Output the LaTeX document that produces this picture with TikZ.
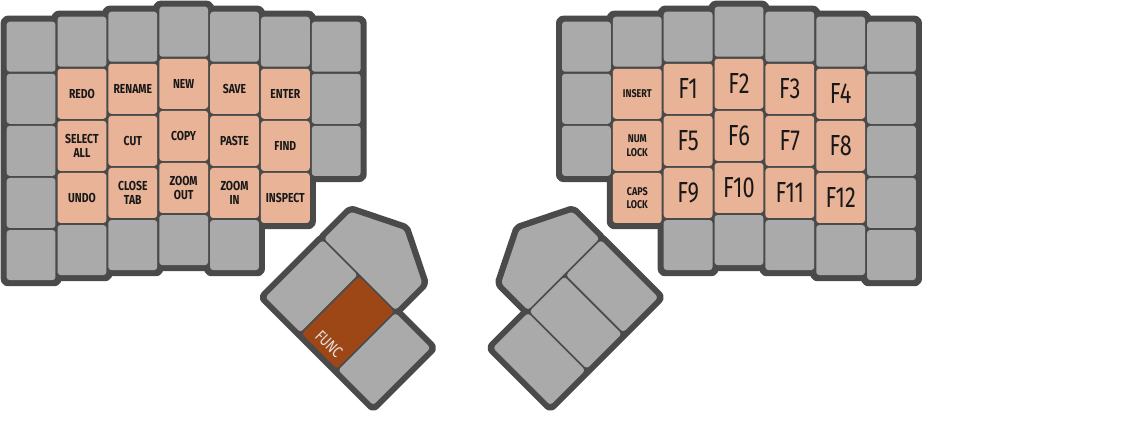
\documentclass[tikz,border=0pt]{standalone}
\usepackage{fontspec}
\usetikzlibrary{positioning}
\newfontfamily\capfont[FakeStretch=0.8]{Fira Sans}
\newfontfamily\numfont[FakeStretch=0.75]{Fira Sans}
\definecolor{casegray}{RGB}{74,74,74}
\definecolor{keygray}{RGB}{170,170,170}
\definecolor{peach}{RGB}{232,179,150}
\definecolor{rust}{RGB}{158,71,22}
\definecolor{ink}{RGB}{24,24,24}
\definecolor{funcink}{RGB}{228,228,228}
\tikzstyle{casebox} = [draw=casegray,fill=casegray,line width=0.2cm,line join=round,rounded corners=0.04cm]
\tikzstyle{keycap} = [rectangle,fill=keygray,rounded corners=0.06cm,inner sep=0,outer sep=0,minimum width=0.976cm,minimum height=1cm]
\tikzstyle{actcap} = [keycap,fill=peach,text=ink,align=center,font=\capfont\bfseries\fontsize{7.4}{7.8}\selectfont]
\tikzstyle{lockcap} = [actcap,font=\capfont\bfseries\fontsize{6.4}{7.8}\selectfont]
\tikzstyle{fcap} = [actcap,font=\numfont\fontsize{16.5}{18}\selectfont]
\tikzstyle{thumbcap} = [keycap,transform shape,minimum width=0.99cm,minimum height=1.62cm]
\def \gap {0.042cm}

\begin{document}
\begin{tikzpicture}[x=0.02cm,y=-0.02cm,node distance=\gap]
      \useasboundingbox (0,0) rectangle (1124,420);
      % case outlines, one box per column
      \foreach \c/\s/\n in {0/21.7/5,1/16.7/5,2/11.7/5,3/6.7/5,4/11.7/5,5/16.7/4,6/21.7/3}
        \draw[casebox] ({5.7+50.85*\c},{\s-1}) rectangle ++(50.8,{52.1*\n});
      \foreach \c/\s/\n in {0/21.7/3,1/16.7/4,2/11.7/5,3/6.7/5,4/11.7/5,5/16.7/5,6/21.7/5}
        \draw[casebox] ({561+50.85*\c},{\s-1}) rectangle ++(50.8,{52.1*\n});
      % top row of both halves
      \foreach \c/\s in {0/46.7,1/41.7,2/36.7,3/31.7,4/36.7,5/41.7,6/46.7} {
        \node[keycap] (l\c0) at ({31.1+50.85*\c},\s) {};
        \node[keycap] (r\c0) at ({586.4+50.85*\c},\s) {};
      }
      % left half
      \node[keycap,below=of l00] (l01) {};
      \node[keycap,below=of l01] (l02) {};
      \node[keycap,below=of l02] (l03) {};
      \node[keycap,below=of l03] (l04) {};
      \node[actcap,below=of l10] (redo) {REDO};
      \node[actcap,below=of redo] (selectall) {SELECT\\ALL};
      \node[actcap,below=of selectall] (undo) {UNDO};
      \node[keycap,below=of undo] (l14) {};
      \node[actcap,below=of l20] (rename) {RENAME};
      \node[actcap,below=of rename] (cut) {CUT};
      \node[actcap,below=of cut] (closetab) {CLOSE\\TAB};
      \node[keycap,below=of closetab] (l24) {};
      \node[actcap,below=of l30] (new) {NEW};
      \node[actcap,below=of new] (copy) {COPY};
      \node[actcap,below=of copy] (zoomout) {ZOOM\\OUT};
      \node[keycap,below=of zoomout] (l34) {};
      \node[actcap,below=of l40] (save) {SAVE};
      \node[actcap,below=of save] (paste) {PASTE};
      \node[actcap,below=of paste] (zoomin) {ZOOM\\IN};
      \node[keycap,below=of zoomin] (l44) {};
      \node[actcap,below=of l50] (enter) {ENTER};
      \node[actcap,below=of enter] (find) {FIND};
      \node[actcap,below=of find] (inspect) {INSPECT};
      \node[keycap,below=of l60] (l61) {};
      \node[keycap,below=of l61] (l62) {};
      % right half
      \node[keycap,below=of r00] (r01) {};
      \node[keycap,below=of r01] (r02) {};
      \node[lockcap,below=of r10] (insert) {INSERT};
      \node[lockcap,below=of insert] (numlock) {NUM\\LOCK};
      \node[lockcap,below=of numlock] (capslock) {CAPS\\LOCK};
      \node[fcap,below=of r20] (f1) {F1};
      \node[fcap,below=of f1] (f5) {F5};
      \node[fcap,below=of f5] (f9) {F9};
      \node[keycap,below=of f9] (r24) {};
      \node[fcap,below=of r30] (f2) {F2};
      \node[fcap,below=of f2] (f6) {F6};
      \node[fcap,below=of f6] (f10) {F10};
      \node[keycap,below=of f10] (r34) {};
      \node[fcap,below=of r40] (f3) {F3};
      \node[fcap,below=of f3] (f7) {F7};
      \node[fcap,below=of f7] (f11) {F11};
      \node[keycap,below=of f11] (r44) {};
      \node[fcap,below=of r50] (f4) {F4};
      \node[fcap,below=of f4] (f8) {F8};
      \node[fcap,below=of f8] (f12) {F12};
      \node[keycap,below=of f12] (r54) {};
      \node[keycap,below=of r60] (r61) {};
      \node[keycap,below=of r61] (r62) {};
      \node[keycap,below=of r62] (r63) {};
      \node[keycap,below=of r63] (r64) {};
      % left thumb cluster
      \begin{scope}[shift={(265,297)},rotate=-45]
        \draw[casebox] (-0.5,1) rectangle (154,-82);
        \draw[casebox] (-0.5,-82) -- (102.5,-82) -- (102.5,-122) -- (51,-147.5) -- (-0.5,-122) -- cycle;
        \node[thumbcap] (lthumb1) at (25.25,-40.5) {};
        \node[thumbcap,fill=rust] (func) at (76.75,-40.5) {};
        \node[thumbcap] (lthumb3) at (128.25,-40.5) {};
        \fill[keygray,rounded corners=0.06cm] (0.5,-83) -- (101.5,-83) -- (101.5,-121) -- (51,-146) -- (0.5,-121) -- cycle;
        \node[transform shape,inner sep=0,text=funcink,font=\capfont\fontsize{9.2}{10}\selectfont] (funclabel) at (78.5,-12) {FUNC};
      \end{scope}
      % right thumb cluster, mirrored
      \begin{scope}[shift={(923.5,0)},xscale=-1]
        \begin{scope}[shift={(265,297)},rotate=-45]
          \draw[casebox] (-0.5,1) rectangle (154,-82);
          \draw[casebox] (-0.5,-82) -- (102.5,-82) -- (102.5,-122) -- (51,-147.5) -- (-0.5,-122) -- cycle;
          \node[thumbcap] (rthumb1) at (25.25,-40.5) {};
          \node[thumbcap] (rthumb2) at (76.75,-40.5) {};
          \node[thumbcap] (rthumb3) at (128.25,-40.5) {};
          \fill[keygray,rounded corners=0.06cm] (0.5,-83) -- (101.5,-83) -- (101.5,-121) -- (51,-146) -- (0.5,-121) -- cycle;
        \end{scope}
      \end{scope}
    \end{tikzpicture}
\end{document}
